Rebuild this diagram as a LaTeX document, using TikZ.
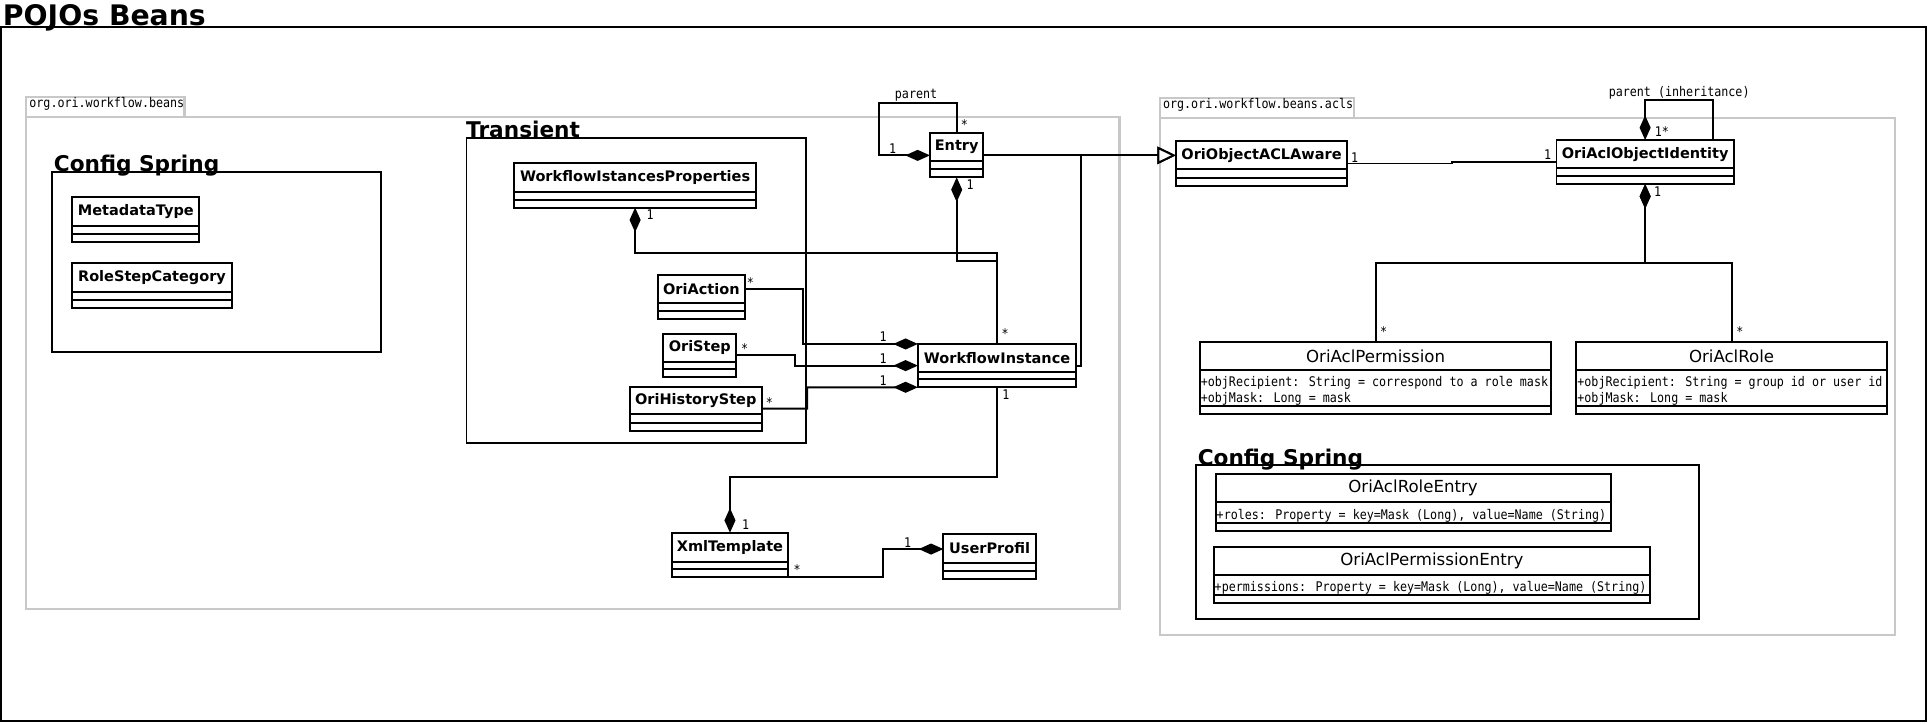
\documentclass[tikz,border=0pt]{standalone}
\usepackage{fontspec}
\setmainfont{DejaVu Sans}
\newfontfamily\monof[FakeStretch=0.88]{DejaVu Sans Mono}
\usetikzlibrary{arrows.meta,calc}
\definecolor{pkggray}{RGB}{200,200,200}
\tikzset{
  clsbox/.style={draw, line width=0.8pt, fill=white, inner sep=0pt, outer sep=0pt, anchor=north west},
  clsname/.style={font=\fontsize{5.9}{7}\selectfont\bfseries, inner sep=0pt},
  clsnamer/.style={font=\fontsize{6.75}{8}\selectfont, inner sep=0pt},
  mult/.style={font=\fontsize{5.4}{6}\selectfont\monof, inner sep=0pt},
  attr/.style={font=\fontsize{5.4}{6}\selectfont\monof, inner sep=0pt, anchor=base west},
  conn/.style={draw, line width=0.8pt},
  comp/.style={conn, -{Diamond[length=10pt,width=4.5pt]}},
  gen/.style={conn, -{Triangle[open,length=7.5pt,width=7pt,fill=white]}},
  pkg/.style={draw=pkggray, line width=0.9pt},
  grp/.style={draw, line width=0.8pt},
  grptitle/.style={font=\fontsize{8.8}{10}\selectfont\bfseries, inner sep=0pt, anchor=base west},
  pkgtitle/.style={font=\fontsize{5.4}{6}\selectfont\monof, inner sep=0pt, anchor=base west},
}
% #1 name, #2 x1, #3 y1, #4 x2, #5 y2, #6 text, #7 name compartment height, #8 name style
\newcommand\umlclass[8]{%
  \node[clsbox, minimum width={(#4-#2)*0.5pt}, minimum height={(#5-#3)*0.5pt}] (#1) at (#2,#3) {};
  \draw[line width=0.8pt] ($(#1.north west)+(0,#7)$) -- ($(#1.north east)+(0,#7)$);
  \draw[line width=0.8pt] ($(#1.south west)+(0,-6.5)$) -- ($(#1.south east)+(0,-6.5)$);
  \node[#8] at ($(#1.north)+(0,#7/2)$) {#6};
}
\begin{document}
\begin{tikzpicture}[x=0.5pt,y=-0.5pt]
\useasboundingbox (0,0) rectangle (1568,588);
% outer frame
\draw[grp] (1,22) rectangle (1565.6,586);
\node[font=\fontsize{11.5}{13}\selectfont\bfseries, inner sep=0pt, anchor=base west] (title) at (2,21) {POJOs Beans};
% package 1
\draw[pkg] (21,79) rectangle (150,95.4);
\node[pkgtitle] (pkg1t) at (23.5,87) {org.ori.workflow.beans};
\draw[pkg] (21,95.4) rectangle (910,495.3);
% package 2
\draw[pkg] (942.9,79.4) rectangle (1100.4,95.7);
\node[pkgtitle] (pkg2t) at (945,88) {org.ori.workflow.beans.acls};
\draw[pkg] (943,95.7) rectangle (1540.6,516.2);
% groups
\draw[grp] (42.5,139.5) rectangle (309.5,286);
\node[grptitle] (cs1) at (43.4,139.5) {Config Spring};
\draw[grp] (379.2,111.9) rectangle (655,360.4);
\node[grptitle] (tr) at (378.5,111.7) {Transient};
\draw[grp] (972.4,378) rectangle (1381,503.4);
\node[grptitle] (cs2) at (973.2,378) {Config Spring};
% classes
\umlclass{metadata}{58.8}{160.4}{162}{196.5}{MetadataType}{23}{clsname}
\umlclass{rolestep}{58.8}{214}{188.3}{250}{RoleStepCategory}{23}{clsname}
\umlclass{wip}{417.7}{132.8}{614.8}{168.8}{WorkflowIstancesProperties}{23}{clsname}
\umlclass{oriaction}{534.5}{223.5}{605.7}{259.6}{OriAction}{22.5}{clsname}
\umlclass{oristep}{539.3}{271.2}{598.4}{306.7}{OriStep}{22.8}{clsname}
\umlclass{ohs}{511.7}{314.3}{619.4}{350.1}{OriHistoryStep}{22.5}{clsname}
\umlclass{entry}{755.9}{108.4}{799.4}{144.2}{Entry}{22.5}{clsname}
\umlclass{wfi}{746.1}{279.6}{874.9}{314.8}{WorkflowInstance}{22.4}{clsname}
\umlclass{xml}{546.2}{433}{640.5}{468.7}{XmlTemplate}{23.6}{clsname}
\umlclass{up}{766.8}{434.3}{841.9}{470.7}{UserProfil}{23}{clsname}
\umlclass{oaa}{955.8}{114.9}{1095.1}{150.9}{OriObjectACLAware}{22.4}{clsname}
\umlclass{oaoi}{1265.2}{113.8}{1409.3}{149.6}{OriAclObjectIdentity}{23}{clsname}
% classes with attributes
\umlclass{perm}{975.2}{278.3}{1261.1}{336.8}{OriAclPermission}{22.5}{clsnamer}
\node[attr] (perma1) at (975.7,314.3) {+objRecipient: String = correspond to a role mask};
\node[attr] (perma2) at (975.7,327.5) {+objMask: Long = mask};
\umlclass{role}{1281.3}{278.3}{1533.7}{336.8}{OriAclRole}{22.5}{clsnamer}
\node[attr] (rolea1) at (1281.8,314.3) {+objRecipient: String = group id or user id};
\node[attr] (rolea2) at (1281.8,327.5) {+objMask: Long = mask};
\umlclass{roleentry}{988.1}{385.6}{1309.1}{431.4}{OriAclRoleEntry}{22.2}{clsnamer}
\node[attr] (rea1) at (988.6,422.3) {+roles: Property = key=Mask (Long), value=Name (String)};
\umlclass{permentry}{986.5}{444.4}{1341.4}{490.4}{OriAclPermissionEntry}{23}{clsnamer}
\node[attr] (pea1) at (987,481.2) {+permissions: Property = key=Mask (Long), value=Name (String)};
% connectors
\draw[comp] (entry.north) -- ++(0,-24.9) -| ($(entry.west)+(-41.7,0)$) -- (entry.west);
\node[mult] (lparent) at (744.6,77.2) {parent};
\node[mult] (l1) at (784,101) {*};
\node[mult] (l2) at (725.6,120.6) {1};
\draw[comp] (wfi.north) |- ($(entry.south)+(0,67.8)$) -- (entry.south);
\node[mult] (l3) at (788.5,150.4) {1};
\node[mult] (l4) at (817,271) {*};
\draw[comp] (wfi.north) |- ($(wip.south)+(0,37.1)$) -- (wip.south);
\node[mult] (l5) at (528.4,174.8) {1};
\draw[gen] (entry.east) -- (entry.east -| oaa.west);
\draw[gen] (wfi.east) -| ($(entry.east)+(79.2,0)$) -- (entry.east -| oaa.west);
\draw[conn] (oaa.east) -- ++(84.8,0) |- (oaoi.west);
\node[mult] (l6) at (1101.2,128) {1};
\node[mult] (l7) at (1257.9,126) {1};
\draw[comp] ($(oaoi.north)+(55,0)$) |- ($(oaoi.north)+(0,-32.5)$) -- (oaoi.north);
\node[mult] (lparent2) at (1364.9,75.3) {parent (inheritance)};
\node[mult] (l8) at (1350.8,107) {1*};
\draw[comp] (perm.north) |- ($(oaoi.south)+(0,63.9)$) -- (oaoi.south);
\draw[comp] (role.north) |- ($(oaoi.south)+(0,63.9)$) -- (oaoi.south);
\node[mult] (l9) at (1347.5,155.8) {1};
\node[mult] (l10) at (1124.6,269.8) {*};
\node[mult] (l11) at (1414.2,269.8) {*};
\draw[comp] ($(oriaction.north east)+(0,11.7)$) -| (652.5,279.6) -- (wfi.north west);
\node[mult] (l12) at (610,229.4) {*};
\node[mult] (l13) at (717.8,273.7) {1};
\draw[comp] (oristep.east) -| (646.3,297.2) -- (wfi.west);
\node[mult] (l14) at (605.3,283) {*};
\node[mult] (l15) at (717.8,291.3) {1};
\draw[comp] (ohs.east) -| (656.1,314.8) -- (wfi.south west);
\node[mult] (l16) at (625.3,327.5) {*};
\node[mult] (l17) at (717.8,309.7) {1};
\draw[comp] (wfi.south) |- ($(xml.north)+(0,-45.5)$) -- (xml.north);
\node[mult] (l18) at (817.6,321.1) {1};
\node[mult] (l19) at (606,426.8) {1};
\draw[comp] (xml.south east) -| (717.8,446.3) -- ($(up.north west)+(0,12)$);
\node[mult] (l20) at (648,463) {*};
\node[mult] (l21) at (737.8,440.8) {1};
\end{tikzpicture}
\end{document}
